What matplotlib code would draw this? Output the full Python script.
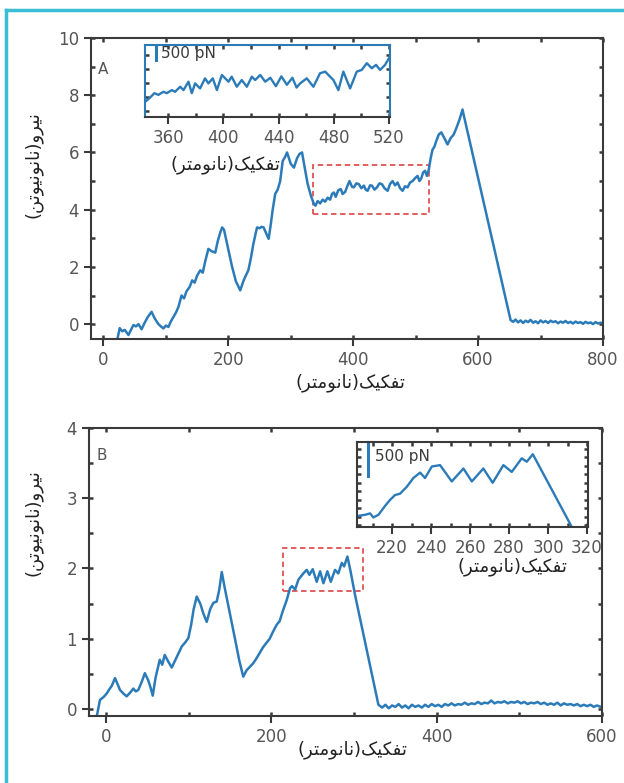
import matplotlib
matplotlib.use("Agg")
import matplotlib.pyplot as plt
from matplotlib.lines import Line2D
from matplotlib.patches import Rectangle
from matplotlib.ticker import MultipleLocator

# ---- data ----
# panel A, main curve (nm, nN)
a_x = [23, 26, 30, 34, 40, 44, 48, 52, 56, 61, 66, 71, 77, 82, 88, 93, 96, 100, 104, 108, 112,
       116, 120, 125, 129, 133, 138, 142, 146, 150, 155, 159, 163, 168, 173, 179, 183, 187, 190, 193,
       200, 206, 212, 219, 224, 228, 232, 236, 240, 244, 246, 250, 253, 256.5, 260, 264.5, 268, 271,
       275, 279, 283, 287, 291, 294, 297, 300, 305, 310, 314, 318, 322, 327, 332, 337, 339.5,
       343, 347, 351, 355, 359, 363, 366, 369, 372, 376, 380, 383, 387, 391, 394, 398, 401, 405,
       409, 413, 417, 420, 423, 427, 430, 434, 438, 442, 446, 450, 455, 459, 463, 467, 471, 475,
       479, 483, 487, 491, 495, 499, 503, 506, 509, 512, 515, 518, 521, 524, 527, 530, 533, 537,
       541, 546, 551, 556, 561, 566, 571, 575, 577, 652,
       656, 660, 664, 668, 672, 676, 680, 684, 688, 692, 696, 700, 704, 708, 712, 716, 720, 724,
       728, 732, 736, 740, 744, 748, 752, 756, 760, 764, 768, 772, 776, 780, 784, 788, 792, 796, 800]
a_y = [-0.45, -0.14, -0.25, -0.2, -0.38, -0.2, -0.03, -0.08, 0.0, -0.18, 0.05, 0.25, 0.43, 0.2, 0.0, -0.1, -0.15, -0.05, -0.1, 0.1, 0.25,
       0.4, 0.6, 1.0, 0.9, 1.15, 1.3, 1.53, 1.45, 1.7, 1.88, 1.8, 2.2, 2.63, 2.55, 2.5, 2.9, 3.2, 3.38, 3.3,
       2.6, 2.0, 1.5, 1.18, 1.5, 1.7, 1.88, 2.3, 2.8, 3.2, 3.38, 3.35, 3.4, 3.38, 3.2, 2.98, 3.5, 4.0,
       4.55, 4.7, 5.0, 5.7, 5.85, 6.0, 5.8, 5.6, 5.47, 5.8, 5.95, 6.0, 5.5, 4.9, 4.5, 4.2, 4.14,
       4.3, 4.22, 4.35, 4.28, 4.42, 4.35, 4.55, 4.6, 4.45, 4.68, 4.72, 4.55, 4.62, 4.85, 5.0, 4.8, 4.78, 4.92,
       4.89, 4.75, 4.84, 4.7, 4.66, 4.85, 4.84, 4.7, 4.78, 4.92, 4.89, 4.75, 4.66, 4.9, 5.0, 4.85, 4.95, 4.75,
       4.66, 4.82, 4.78, 4.95, 5.0, 5.1, 5.18, 5.0, 5.1, 5.3, 5.36, 5.18, 5.4, 5.8, 6.1, 6.2, 6.4, 6.63,
       6.7, 6.5, 6.28, 6.5, 6.63, 6.9, 7.2, 7.5, 7.3, 0.14,
       0.08, 0.16, 0.06, 0.13, 0.04, 0.12, 0.07, 0.15, 0.05, 0.1, 0.03, 0.13, 0.06, 0.11, 0.04, 0.12, 0.07, 0.1,
       0.03, 0.09, 0.05, 0.11, 0.04, 0.08, 0.02, 0.09, 0.04, 0.07, 0.01, 0.08, 0.03, 0.06, 0.0, 0.07, 0.02, 0.05, 0.03]

# panel A, inset
ai_x = [343.5, 346.4, 350, 352.9, 356.5, 358.9, 362.7, 365, 368.7, 371.1, 374.7, 377.1, 379.5, 383.1,
        386.7, 389.1, 392.3, 395.3, 398.9, 401.3, 403.7, 406, 409.7, 413.3, 417, 420.6, 423, 426.7,
        430.3, 434, 438, 442, 446, 450, 453, 455.6, 460.4, 465.2, 470, 473.7, 477.3, 479.7, 483.3,
        486.9, 491.8, 496.6, 500.2, 503.9, 507.5, 510.6, 513.5, 517.1, 520]
ai_y = [4.35, 4.47, 4.65, 4.59, 4.7, 4.65, 4.76, 4.7, 4.88, 4.76, 5.06, 4.65, 5.0, 4.82,
        5.18, 5.0, 5.18, 4.76, 5.3, 5.18, 5.06, 5.24, 4.88, 5.12, 4.88, 5.24, 5.12, 5.3,
        5.06, 5.2, 4.9, 5.25, 4.95, 5.2, 4.85, 5.0, 5.18, 4.88, 5.36, 5.42, 5.24, 5.12, 4.76,
        5.42, 4.82, 5.42, 5.48, 5.72, 5.54, 5.66, 5.48, 5.66, 5.9]

# panel B, main curve
b_x = [-11.3, -7.3, -3, 0.8, 4, 7, 10.9, 14, 16.9, 21, 25, 29, 33, 36, 39, 43, 47, 51, 54, 56.5,
       60, 65, 68, 71, 75, 79.5, 84, 88, 91.6, 96, 99.6, 103, 106, 109.7, 114, 118, 121.8, 126,
       129.8, 133.9, 137, 140, 144, 150, 156, 161, 166, 170, 174, 178, 182, 186, 190, 194, 198,
       202, 206.5, 210, 214, 218.6, 222.6, 225, 228.7, 232.7, 238.7, 242.8, 246, 250, 254.9, 259,
       263, 267.8, 271.9, 277, 281, 285.2, 288, 292, 296, 301.3, 329.5,
       334, 338, 342, 346, 350, 354, 358, 362, 366, 370, 374, 378, 382, 386, 390, 394, 398, 402,
       406, 410, 414, 418, 422, 426, 430, 434, 438, 442, 446, 450, 454, 458, 462, 466, 470, 474,
       478, 482, 486, 490, 494, 498, 502, 506, 510, 514, 518, 522, 526, 530, 534, 538, 542, 546,
       550, 554, 558, 562, 566, 570, 574, 578, 582, 586, 590, 594, 598, 600]
b_y = [-0.11, 0.13, 0.17, 0.22, 0.28, 0.33, 0.44, 0.35, 0.27, 0.22, 0.18, 0.23, 0.29, 0.25, 0.27, 0.38, 0.51, 0.41, 0.3, 0.19,
       0.45, 0.7, 0.63, 0.77, 0.68, 0.59, 0.7, 0.8, 0.89, 0.95, 1.01, 1.2, 1.42, 1.6, 1.5, 1.35, 1.24, 1.42,
       1.51, 1.53, 1.7, 1.95, 1.7, 1.35, 1.0, 0.7, 0.46, 0.55, 0.6, 0.65, 0.72, 0.8, 0.88, 0.94, 1.0,
       1.1, 1.2, 1.25, 1.4, 1.55, 1.72, 1.75, 1.7, 1.84, 1.93, 1.98, 1.91, 1.99, 1.81, 1.96,
       1.79, 1.96, 1.81, 1.98, 1.93, 2.08, 2.03, 2.17, 1.95, 1.62, 0.06,
       0.02, 0.06, 0.01, 0.05, 0.03, 0.07, 0.02, 0.05, 0.01, 0.06, 0.03, 0.05, 0.02, 0.06, 0.03, 0.07, 0.04, 0.06,
       0.03, 0.07, 0.05, 0.08, 0.05, 0.07, 0.06, 0.09, 0.06, 0.08, 0.07, 0.1, 0.07, 0.09, 0.08, 0.12, 0.08, 0.1,
       0.09, 0.11, 0.08, 0.1, 0.09, 0.11, 0.08, 0.1, 0.07, 0.09, 0.08, 0.1, 0.07, 0.09, 0.06, 0.08, 0.06, 0.09,
       0.05, 0.08, 0.06, 0.07, 0.05, 0.07, 0.04, 0.06, 0.04, 0.06, 0.03, 0.05, 0.03, 0.04]

# panel B, inset
bi_x = [201.9, 206.2, 208.7, 210.4, 213.0, 216.4, 219.0, 221.5, 224.1, 227.5, 230.9, 234.4, 236.9,
        240.4, 244.6, 250.6, 256.6, 260.9, 266.8, 271.6, 277.1, 281.4, 286.5, 289.1, 292.2, 312.2]
bi_y = [1.26, 1.28, 1.30, 1.24, 1.28, 1.41, 1.50, 1.57, 1.59, 1.69, 1.82, 1.90, 1.82,
        1.99, 2.01, 1.77, 1.96, 1.77, 1.96, 1.75, 2.01, 1.91, 2.11, 2.06, 2.17, 1.10]

# zoom boxes (x0, y0, x1, y1)
a_box = (335, 3.86, 521, 5.57)
b_box = (214, 1.68, 311, 2.29)

X_LABEL = "تفکیک(نانومتر)"
Y_LABEL = "نیرو(نانونیوتن)"

BLUE = "#2b7bb9"
GRAY = "#555555"
SPINE = "#3a3a3a"
W, H = 624, 783

# minimal Persian shaping so the glyphs join (no bidi library available)
FORMS = {
    "ت": ("\uFE95", "\uFE96", "\uFE97", "\uFE98"),
    "ف": ("\uFED1", "\uFED2", "\uFED3", "\uFED4"),
    "ک": ("\uFB8E", "\uFB8F", "\uFB90", "\uFB91"),
    "ی": ("\uFBFC", "\uFBFD", "\uFBFE", "\uFBFF"),
    "ن": ("\uFEE5", "\uFEE6", "\uFEE7", "\uFEE8"),
    "م": ("\uFEE1", "\uFEE2", "\uFEE3", "\uFEE4"),
    "ا": ("\uFE8D", "\uFE8E", None, None),
    "و": ("\uFEED", "\uFEEE", None, None),
    "ر": ("\uFEAD", "\uFEAE", None, None),
}
DUAL = set("تفکینم")


def shape(text):
    out = []
    for i, ch in enumerate(text):
        if ch not in FORMS:
            out.append(ch)
            continue
        prev = text[i - 1] if i > 0 else ""
        nxt = text[i + 1] if i + 1 < len(text) else ""
        jp = prev in DUAL
        jn = ch in DUAL and nxt in FORMS
        f = FORMS[ch]
        if jp and jn:
            out.append(f[3])
        elif jp:
            out.append(f[1])
        elif jn:
            out.append(f[2])
        else:
            out.append(f[0])
    s = "".join(reversed(out))
    return s.replace("(", "\0").replace(")", "(").replace("\0", ")")


def fx(px):
    return px / W


def fy(py):
    return 1 - py / H


def style_axes(ax, xmaj, xmin, ymaj, ymin, labelsize=12):
    for s in ax.spines.values():
        s.set_color(SPINE)
        s.set_linewidth(1.5)
    ax.xaxis.set_major_locator(MultipleLocator(xmaj))
    ax.xaxis.set_minor_locator(MultipleLocator(xmin))
    ax.yaxis.set_major_locator(MultipleLocator(ymaj))
    ax.yaxis.set_minor_locator(MultipleLocator(ymin))
    # minor ticks also at the major positions, so top/right get dots everywhere
    ax.xaxis.remove_overlapping_locs = False
    ax.yaxis.remove_overlapping_locs = False
    ax.tick_params(which="major", direction="out", length=5, width=1.5,
                   color=SPINE, labelcolor=GRAY, labelsize=labelsize)
    ax.tick_params(which="minor", direction="in", length=3, width=1.8,
                   top=True, right=True, color=SPINE)


fig = plt.figure(figsize=(6.24, 7.83), dpi=100)
fig.patch.set_facecolor("white")

# ---------- panel A ----------
axA = fig.add_axes([fx(91), fy(339), fx(603) - fx(91), fy(38) - fy(339)])
axA.plot(a_x, a_y, color=BLUE, lw=1.8)
axA.set_xlim(-20, 800)
axA.set_ylim(-0.52, 10)
style_axes(axA, 200, 100, 2, 1)
axA.add_patch(Rectangle((a_box[0], a_box[1]), a_box[2] - a_box[0], a_box[3] - a_box[1],
                        fill=False, ec="#e05050", ls=(0, (3, 2)), lw=1.3))
fig.text(fx(103), fy(70), "A", color=GRAY, fontsize=11, ha="center", va="center")

axAi = fig.add_axes([fx(145), fy(117), fx(390) - fx(145), fy(45) - fy(117)])
axAi.plot(ai_x, ai_y, color=BLUE, lw=1.7)
axAi.set_xlim(343.2, 520.7)
axAi.set_ylim(3.8, 6.37)
style_axes(axAi, 40, 20, 1, 0.5)
axAi.tick_params(axis="y", which="major", left=False, labelleft=False)
for side in ("left", "right", "top"):
    axAi.spines[side].set_color(BLUE)
axAi.plot([351.5, 351.5], [5.82, 6.32], color=BLUE, lw=2.2)
axAi.text(355, 6.07, "500 pN", color=SPINE, fontsize=11, va="center")

# ---------- panel B ----------
axB = fig.add_axes([fx(89), fy(716), fx(602) - fx(89), fy(428) - fy(716)])
axB.plot(b_x, b_y, color=BLUE, lw=1.8)
axB.set_xlim(-20.6, 600)
axB.set_ylim(-0.1, 4)
style_axes(axB, 200, 100, 1, 0.5)
axB.add_patch(Rectangle((b_box[0], b_box[1]), b_box[2] - b_box[0], b_box[3] - b_box[1],
                        fill=False, ec="#e05050", ls=(0, (3, 2)), lw=1.3))
fig.text(fx(102), fy(455), "B", color=GRAY, fontsize=11, ha="center", va="center")

axBi = fig.add_axes([fx(357), fy(527), fx(588) - fx(357), fy(442) - fy(527)])
axBi.plot(bi_x, bi_y, color=BLUE, lw=1.7)
axBi.set_xlim(202, 320.5)
axBi.set_ylim(1.1, 2.35)
style_axes(axBi, 20, 10, 0.25, 0.125)
axBi.tick_params(axis="y", which="major", left=False, labelleft=False)
axBi.plot([207.5, 207.5], [1.85, 2.35], color=BLUE, lw=2.2, clip_on=False)
axBi.text(211, 2.14, "500 pN", color=SPINE, fontsize=11, va="center")

# ---------- labels ----------
fa = ["DejaVu Sans"]
fig.text(fx(350), fy(383), shape(X_LABEL), family=fa, fontsize=13, ha="center", va="center", color="#222222")
fig.text(fx(352), fy(750), shape(X_LABEL), family=fa, fontsize=13, ha="center", va="center", color="#222222")
fig.text(fx(225), fy(165), shape(X_LABEL), family=fa, fontsize=13, ha="center", va="center", color="#222222")
fig.text(fx(512), fy(567), shape(X_LABEL), family=fa, fontsize=13, ha="center", va="center", color="#222222")
fig.text(fx(33), fy(165), shape(Y_LABEL), family=fa, fontsize=13, ha="center", va="center",
         rotation=90, color="#222222")
fig.text(fx(33), fy(523), shape(Y_LABEL), family=fa, fontsize=13, ha="center", va="center",
         rotation=90, color="#222222")

# cyan frame around the figure
CYAN = "#3bbdd3"
fig.add_artist(Line2D([fx(6), 1.01], [fy(10), fy(10)], color=CYAN, lw=2.5))
fig.add_artist(Line2D([fx(6), fx(6)], [fy(10), -0.01], color=CYAN, lw=2.5))

fig.savefig("out.png", dpi=100)
